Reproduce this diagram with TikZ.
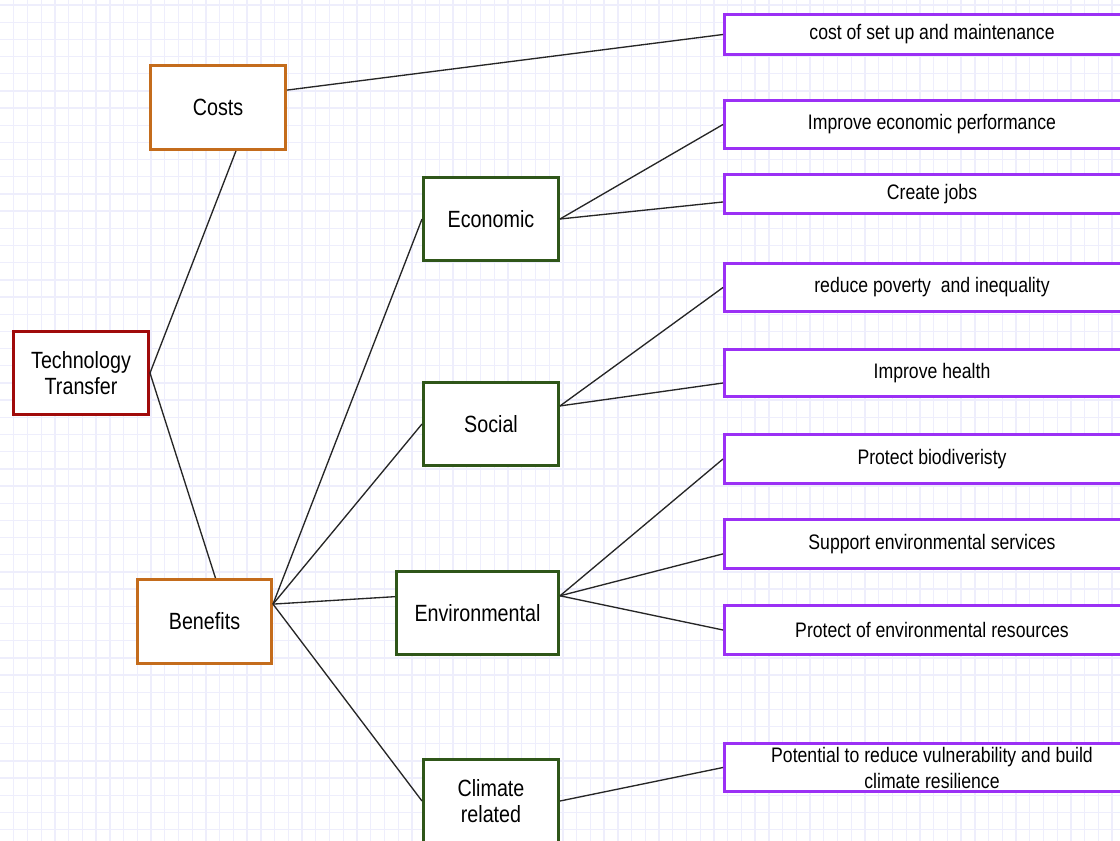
\documentclass[tikz,border=0pt]{standalone}
\usepackage{fontspec}
\setmainfont[FakeStretch=0.84]{Liberation Sans}
\usetikzlibrary{calc}
\definecolor{gridc}{HTML}{EEEEFC}
\definecolor{ttred}{HTML}{A00A0A}
\definecolor{orangec}{HTML}{C46C1C}
\definecolor{greenc}{HTML}{2F5619}
\definecolor{purplec}{HTML}{9B30F5}
\tikzset{
  box/.style={draw, line width=2.25pt, fill=white, inner sep=0pt, align=center,
    font=\fontsize{17.6}{20}\selectfont},
  rootbox/.style={box, draw=ttred, minimum width=101.25pt, minimum height=62.25pt},
  midbox/.style={box, draw=orangec, minimum width=101.25pt, minimum height=63pt},
  catbox/.style={box, draw=greenc, minimum width=101.25pt, minimum height=62.25pt},
  leafbox/.style={box, draw=purplec, minimum width=311.25pt,
    font=\fontsize{15.75}{19.5}\selectfont},
  link/.style={draw=black!85, line width=1pt}
}
\begin{document}
\begin{tikzpicture}[x=0.75pt,y=-0.75pt]
\useasboundingbox (0,0) rectangle (1120,841);
\clip (0,0) rectangle (1120,841);
\fill[white] (0,0) rectangle (1120,841);
\foreach \i in {1,...,82} \draw[gridc, line width=1pt] (13.73*\i,0) -- (13.73*\i,841);
\foreach \j in {0,...,49} \draw[gridc, line width=1pt] (0,5+17.18*\j) -- (1120,5+17.18*\j);

% main nodes
\node[rootbox] (tt) at (81,373) {Technology\\Transfer};
\node[midbox] (costs) at (218,107.5) {Costs};
\node[midbox, minimum width=100.5pt] (ben) at (204.5,621.5) {Benefits};
\node[catbox] (econ) at (491,219) {Economic};
\node[catbox] (soc) at (491,424) {Social};
\node[catbox, minimum width=121.5pt] (env) at (477.5,613) {Environmental};
\node[catbox] (clim) at (491,801) {Climate\\related};

% leaves
\node[leafbox, minimum height=30pt] (p1) at (932,34.5) {cost of set up and maintenance};
\node[leafbox, minimum height=36pt] (p2) at (932,124.5) {Improve economic performance};
\node[leafbox, minimum height=29.25pt] (p3) at (932,194) {Create jobs};
\node[leafbox, minimum height=36pt] (p4) at (932,287.5) {reduce poverty\ \ and inequality};
\node[leafbox, minimum height=35.25pt] (p5) at (932,373) {Improve health};
\node[leafbox, minimum height=36.75pt] (p6) at (932,459) {Protect biodiveristy};
\node[leafbox, minimum height=36.75pt] (p7) at (932,544) {Support environmental services};
\node[leafbox, minimum height=36.75pt] (p8) at (932,630) {Protect of environmental resources};
\node[leafbox, minimum height=36pt] (p9) at (932,767.5) {Potential to reduce vulnerability and build\\climate resilience};

% connectors
\draw[link] (tt.east) -- ($(costs.south west)!0.63!(costs.south east)$);
\draw[link] (tt.east) -- ($(ben.north west)!0.58!(ben.north east)$);
\draw[link] ($(costs.north east)!0.3!(costs.south east)$) -- (p1.west);
\coordinate (bout) at ($(ben.north east)!0.3!(ben.south east)$);
\draw[link] (bout) -- (econ.west);
\draw[link] (bout) -- (soc.west);
\draw[link] (bout) -- ($(env.north west)!0.31!(env.south west)$);
\draw[link] (bout) -- (clim.west);
\draw[link] (econ.east) -- (p2.west);
\draw[link] (econ.east) -- ($(p3.north west)!0.69!(p3.south west)$);
\coordinate (sout) at ($(soc.north east)!0.29!(soc.south east)$);
\draw[link] (sout) -- (p4.west);
\draw[link] (sout) -- ($(p5.north west)!0.7!(p5.south west)$);
\coordinate (eout) at ($(env.north east)!0.3!(env.south east)$);
\draw[link] (eout) -- (p6.west);
\draw[link] (eout) -- ($(p7.north west)!0.69!(p7.south west)$);
\draw[link] (eout) -- (p8.west);
\draw[link] (clim.east) -- (p9.west);
\end{tikzpicture}
\end{document}
